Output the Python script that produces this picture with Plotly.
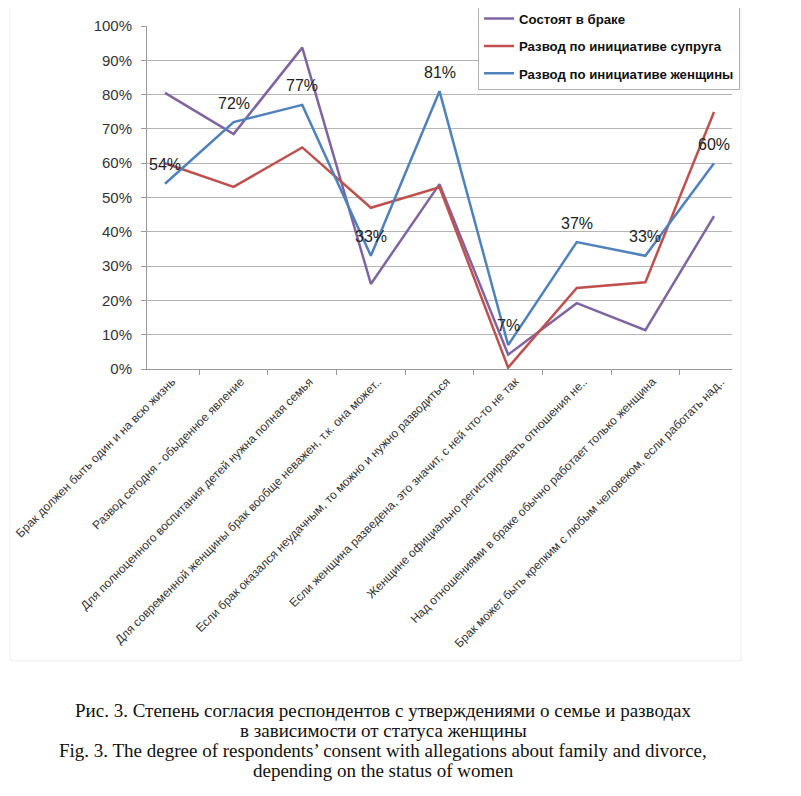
import plotly.graph_objects as go

categories = [
    "Брак должен быть один и на всю жизнь",
    "Развод сегодня - обыденное явление",
    "Для полноценного воспитания детей нужна полная семья",
    "Для современной женщины брак вообще неважен, т.к. она может..",
    "Если брак оказался неудачным, то можно и нужно разводиться",
    "Если женщина разведена, это значит, с ней что-то не так",
    "Женщине официально регистрировать отношения не..",
    "Над отношениями в браке обычно работает только женщина",
    "Брак может быть крепким с любым человеком, если работать над..",
]
married = [0.805, 0.685, 0.937, 0.248, 0.539, 0.042, 0.192, 0.113, 0.446]
husband_init = [0.60, 0.531, 0.646, 0.470, 0.530, 0.004, 0.236, 0.253, 0.749]
wife_init = [0.54, 0.72, 0.77, 0.33, 0.81, 0.07, 0.37, 0.33, 0.60]
series_names = ["Состоят в браке", "Развод по инициативе супруга", "Развод по инициативе женщины"]
colors = ["#8064A2", "#C0504D", "#4F81BD"]
caption = [
    "Рис. 3. Степень согласия респондентов с утверждениями о семье и разводах",
    "в зависимости от статуса женщины",
    "Fig. 3. The degree of respondents’ consent with allegations about family and divorce,",
    "depending on the status of women",
]

# page body margin offset (browser default 8px)
OFF = 8
W, H = 801 - 2 * OFF, 796 - 2 * OFF
L, R, T, B = 147 - OFF, 732 - OFF, 25.7 - OFF, 369.5 - OFF

def px_x(xpx):
    return (xpx - OFF - L) / (R - L)

def px_y(ypx):
    return (B - (ypx - OFF)) / (B - T)

fig = go.Figure()
for i, (name, vals) in enumerate(zip(series_names, [married, husband_init, wife_init])):
    fig.add_trace(go.Scatter(
        x=categories, y=vals, mode="lines", name=name,
        line=dict(color=colors[i], width=2.5), legendgroup=str(i),
    ))

for c, v in zip(categories, wife_init):
    fig.add_annotation(x=c, y=v, text=f"{round(v*100)}%", showarrow=False,
                       yshift=19, font=dict(size=16, color="#222", family="Liberation Sans"))

cap_y = [712, 732, 752, 772]
for txt, yy in zip(caption, cap_y):
    fig.add_annotation(xref="paper", yref="paper", x=px_x(383), y=px_y(yy),
                       text=txt, showarrow=False, xanchor="center", yanchor="middle",
                       font=dict(size=19, color="#111", family="Liberation Serif"))

# faint chart-area frame
fig.add_shape(type="rect", xref="paper", yref="paper",
              x0=px_x(10), x1=px_x(741), y0=px_y(662), y1=px_y(2),
              line=dict(color="#eeeeee", width=1), layer="below")

fig.update_layout(
    width=W, height=H,
    margin=dict(l=L, r=W - R, t=T, b=H - B, pad=0, autoexpand=False),
    paper_bgcolor="white", plot_bgcolor="white",
    font=dict(family="Liberation Sans", color="#222"),
    showlegend=True,
    legend=dict(xref="paper", yref="paper", x=px_x(478), y=px_y(2),
                xanchor="left", yanchor="top",
                bgcolor="white", bordercolor="#b0b0b0", borderwidth=1,
                font=dict(size=13.2, color="#111", weight="bold"), tracegroupgap=7.3,
                itemwidth=30),
    xaxis=dict(type="category", tickson="boundaries", ticks="outside", ticklen=5,
               tickcolor="#999", showline=True, linecolor="#999", linewidth=1,
               showgrid=False, tickangle=-45, automargin=False, ticklabelshift=7,
               tickfont=dict(size=12, color="#333")),
    yaxis=dict(range=[0, 1], dtick=0.1, tickformat=".0%", showgrid=True,
               gridcolor="#b5b5b5", gridwidth=1, showline=True, linecolor="#999",
               ticks="outside", ticklen=5, tickcolor="#999", zeroline=False,
               ticklabelstandoff=6, automargin=False,
               tickfont=dict(size=15, color="#333")),
)

fig.write_html("out.html")
